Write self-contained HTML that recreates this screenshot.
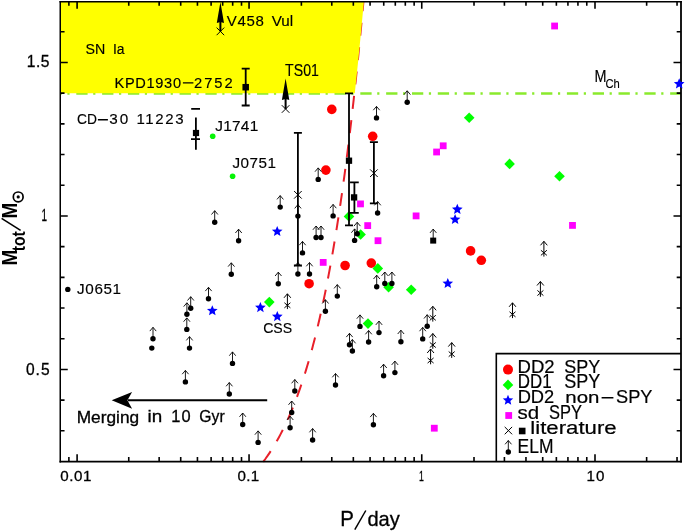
<!DOCTYPE html><html><head><meta charset="utf-8"><style>html,body{margin:0;padding:0;background:#fff;}svg{display:block;will-change:transform;font-family:"Liberation Sans",sans-serif;} .t{stroke:#000;stroke-width:0.2px;} .u{stroke:#000;stroke-width:0.15px;} .v{stroke:#000;stroke-width:0.3px;}</style></head><body><svg width="685" height="531" viewBox="0 0 685 531" font-family="Liberation Sans, sans-serif" fill="#000"><rect width="685" height="531" fill="#fff"/><line x1="60.25" y1="93.6" x2="681.0" y2="93.6" stroke="#8aea2c" stroke-width="2.5" stroke-dasharray="11.3 5.6 2.2 6.72" stroke-dashoffset="9.77"/><path d="M263.2,461.8 L265.49,458.73 L267.67,455.66 L269.75,452.58 L271.74,449.51 L273.66,446.44 L275.49,443.37 L277.26,440.3 L278.97,437.22 L280.61,434.15 L282.2,431.08 L283.74,428.01 L285.22,424.94 L286.67,421.86 L288.07,418.79 L289.42,415.72 L290.74,412.65 L292.03,409.58 L293.28,406.5 L294.49,403.43 L295.68,400.36 L296.84,397.29 L297.97,394.22 L299.07,391.14 L300.15,388.07 L301.2,385 L302.23,381.93 L303.24,378.86 L304.22,375.78 L305.19,372.71 L306.14,369.64 L307.07,366.57 L307.98,363.5 L308.87,360.42 L309.74,357.35 L310.6,354.28 L311.45,351.21 L312.28,348.14 L313.09,345.06 L313.89,341.99 L314.68,338.92 L315.46,335.85 L316.22,332.78 L316.97,329.7 L317.71,326.63 L318.43,323.56 L319.15,320.49 L319.85,317.42 L320.55,314.34 L321.23,311.27 L321.9,308.2 L322.57,305.13 L323.23,302.06 L323.87,298.98 L324.51,295.91 L325.14,292.84 L325.76,289.77 L326.37,286.7 L326.98,283.62 L327.57,280.55 L328.16,277.48 L328.74,274.41 L329.32,271.34 L329.89,268.26 L330.45,265.19 L331,262.12 L331.55,259.05 L332.09,255.98 L332.63,252.9 L333.16,249.83 L333.68,246.76 L334.2,243.69 L334.71,240.62 L335.22,237.54 L335.72,234.47 L336.22,231.4 L336.71,228.33 L337.19,225.26 L337.67,222.18 L338.15,219.11 L338.62,216.04 L339.09,212.97 L339.55,209.9 L340,206.82 L340.46,203.75 L340.91,200.68 L341.35,197.61 L341.79,194.54 L342.23,191.46 L342.66,188.39 L343.09,185.32 L343.51,182.25 L343.93,179.18 L344.35,176.1 L344.76,173.03 L345.17,169.96 L345.57,166.89 L345.98,163.82 L346.37,160.74 L346.77,157.67 L347.16,154.6 L347.55,151.53 L347.94,148.46 L348.32,145.38 L348.7,142.31 L349.08,139.24 L349.45,136.17 L349.82,133.1 L350.19,130.02 L350.55,126.95 L350.91,123.88 L351.27,120.81 L351.63,117.74 L351.98,114.66 L352.33,111.59 L352.68,108.52 L353.03,105.45 L353.37,102.38 L353.71,99.3 L354.05,96.23 L354.39,93.16 L354.72,90.09 L355.05,87.02 L355.38,83.94 L355.71,80.87 L356.03,77.8 L356.35,74.73 L356.67,71.66 L356.99,68.58 L357.31,65.51 L357.62,62.44 L357.93,59.37 L358.24,56.3 L358.55,53.22 L358.85,50.15 L359.16,47.08 L359.46,44.01 L359.76,40.94 L360.05,37.86 L360.35,34.79 L360.64,31.72 L360.94,28.65 L361.23,25.58 L361.51,22.5 L361.8,19.43 L362.09,16.36 L362.37,13.29 L362.65,10.22 L362.93,7.14 L363.21,4.07 L363.48,1" fill="none" stroke="#e8202a" stroke-width="2" stroke-dasharray="13 11.5"/><polygon points="60.25,1.75 363.88,1.75 363.88,1.75 363.33,7.14 362.77,13.29 362.2,19.43 361.63,25.58 361.04,31.72 360.45,37.86 359.86,44.01 359.25,50.15 358.64,56.3 358.02,62.44 357.39,68.58 356.75,74.73 356.11,80.87 355.45,87.02 354.79,93.16 354.79,93.17 60.25,93.17" fill="#ffff00"/><path d="M60.25,1.1V462.55" stroke="#000" stroke-width="1.5"/><path d="M681.0,1.1V462.55" stroke="#000" stroke-width="1.8"/><path d="M59.5,1.75H681.9" stroke="#000" stroke-width="1.3"/><path d="M59.5,461.6H681.9" stroke="#000" stroke-width="1.9"/><path d="M77.1,461.6V454.2M77.1,1.75V8.85M249.05,461.6V454.2M249.05,1.75V8.85M421.75,461.6V454.2M421.75,1.75V8.85M595,461.6V454.2M595,1.75V8.85M68.88,461.6V457M68.88,1.75V5.75M128.75,461.6V457M128.75,1.75V5.75M159.15,461.6V457M159.15,1.75V5.75M180.71,461.6V457M180.71,1.75V5.75M197.44,461.6V457M197.44,1.75V5.75M211.11,461.6V457M211.11,1.75V5.75M222.67,461.6V457M222.67,1.75V5.75M232.68,461.6V457M232.68,1.75V5.75M241.51,461.6V457M241.51,1.75V5.75M301.38,461.6V457M301.38,1.75V5.75M331.78,461.6V457M331.78,1.75V5.75M353.34,461.6V457M353.34,1.75V5.75M370.07,461.6V457M370.07,1.75V5.75M383.74,461.6V457M383.74,1.75V5.75M395.3,461.6V457M395.3,1.75V5.75M405.31,461.6V457M405.31,1.75V5.75M414.14,461.6V457M414.14,1.75V5.75M474.01,461.6V457M474.01,1.75V5.75M504.41,461.6V457M504.41,1.75V5.75M525.97,461.6V457M525.97,1.75V5.75M542.7,461.6V457M542.7,1.75V5.75M556.37,461.6V457M556.37,1.75V5.75M567.93,461.6V457M567.93,1.75V5.75M577.94,461.6V457M577.94,1.75V5.75M586.77,461.6V457M586.77,1.75V5.75M646.64,461.6V457M646.64,1.75V5.75M677.04,461.6V457M677.04,1.75V5.75M60.25,62.55H67.75M681.0,62.55H673.5M60.25,215.95H67.75M681.0,215.95H673.5M60.25,369.5H67.75M681.0,369.5H673.5M60.25,430.81H64.55M681.0,430.81H676.7M60.25,400.12H64.55M681.0,400.12H676.7M60.25,338.73H64.55M681.0,338.73H676.7M60.25,308.03H64.55M681.0,308.03H676.7M60.25,277.34H64.55M681.0,277.34H676.7M60.25,246.64H64.55M681.0,246.64H676.7M60.25,185.25H64.55M681.0,185.25H676.7M60.25,154.56H64.55M681.0,154.56H676.7M60.25,123.86H64.55M681.0,123.86H676.7M60.25,93.17H64.55M681.0,93.17H676.7M60.25,31.78H64.55M681.0,31.78H676.7" stroke="#000" stroke-width="1.6" fill="none"/><circle cx="331.8" cy="109.4" r="4.8" fill="#ff0000"/><circle cx="372.7" cy="136.3" r="4.8" fill="#ff0000"/><circle cx="325.9" cy="170.1" r="4.8" fill="#ff0000"/><circle cx="345.1" cy="265.5" r="4.8" fill="#ff0000"/><circle cx="309.1" cy="283.7" r="4.8" fill="#ff0000"/><circle cx="371.3" cy="263.1" r="4.8" fill="#ff0000"/><circle cx="470.6" cy="250.9" r="4.8" fill="#ff0000"/><circle cx="481.3" cy="260.3" r="4.8" fill="#ff0000"/><path d="M349,211.1L354.3,216.4L349,221.7L343.7,216.4Z" fill="#00ff00"/><path d="M360.6,229.2L365.9,234.5L360.6,239.8L355.3,234.5Z" fill="#00ff00"/><path d="M377.8,263.1L383.1,268.4L377.8,273.7L372.5,268.4Z" fill="#00ff00"/><path d="M388.6,281.9L393.9,287.2L388.6,292.5L383.3,287.2Z" fill="#00ff00"/><path d="M411.2,284.5L416.5,289.8L411.2,295.1L405.9,289.8Z" fill="#00ff00"/><path d="M368,318.3L373.3,323.6L368,328.9L362.7,323.6Z" fill="#00ff00"/><path d="M269.3,296.8L274.6,302.1L269.3,307.4L264,302.1Z" fill="#00ff00"/><path d="M469.2,112.5L474.5,117.8L469.2,123.1L463.9,117.8Z" fill="#00ff00"/><path d="M509.6,158.6L514.9,163.9L509.6,169.2L504.3,163.9Z" fill="#00ff00"/><path d="M559.5,171L564.8,176.3L559.5,181.6L554.2,176.3Z" fill="#00ff00"/><circle cx="212.7" cy="136.2" r="2.8" fill="#06f406"/><circle cx="232.6" cy="176.3" r="2.8" fill="#06f406"/><polygon points="212.3,305.2 213.78,308.76 217.63,309.07 214.7,311.58 215.59,315.33 212.3,313.32 209.01,315.33 209.9,311.58 206.97,309.07 210.82,308.76" fill="#0000ff"/><polygon points="260.4,302 261.88,305.56 265.73,305.87 262.8,308.38 263.69,312.13 260.4,310.12 257.11,312.13 258,308.38 255.07,305.87 258.92,305.56" fill="#0000ff"/><polygon points="277.3,311 278.78,314.56 282.63,314.87 279.7,317.38 280.59,321.13 277.3,319.12 274.01,321.13 274.9,317.38 271.97,314.87 275.82,314.56" fill="#0000ff"/><polygon points="277.2,225.9 278.68,229.46 282.53,229.77 279.6,232.28 280.49,236.03 277.2,234.02 273.91,236.03 274.8,232.28 271.87,229.77 275.72,229.46" fill="#0000ff"/><polygon points="457.3,203.8 458.78,207.36 462.63,207.67 459.7,210.18 460.59,213.93 457.3,211.92 454.01,213.93 454.9,210.18 451.97,207.67 455.82,207.36" fill="#0000ff"/><polygon points="455.1,213.9 456.58,217.46 460.43,217.77 457.5,220.28 458.39,224.03 455.1,222.02 451.81,224.03 452.7,220.28 449.77,217.77 453.62,217.46" fill="#0000ff"/><polygon points="447.8,277.9 449.28,281.46 453.13,281.77 450.2,284.28 451.09,288.03 447.8,286.02 444.51,288.03 445.4,284.28 442.47,281.77 446.32,281.46" fill="#0000ff"/><polygon points="679.2,78.3 680.68,81.86 684.53,82.17 681.6,84.68 682.49,88.43 679.2,86.42 675.91,88.43 676.8,84.68 673.87,82.17 677.72,81.86" fill="#0000ff"/><rect x="551.2" y="22.6" width="6.8" height="6.8" fill="#ff00ff"/><rect x="439.8" y="142.4" width="6.8" height="6.8" fill="#ff00ff"/><rect x="433.2" y="148.6" width="6.8" height="6.8" fill="#ff00ff"/><rect x="357.1" y="200.5" width="6.8" height="6.8" fill="#ff00ff"/><rect x="364.3" y="222.2" width="6.8" height="6.8" fill="#ff00ff"/><rect x="412.7" y="212.5" width="6.8" height="6.8" fill="#ff00ff"/><rect x="374.6" y="237.3" width="6.8" height="6.8" fill="#ff00ff"/><rect x="319.8" y="259" width="6.8" height="6.8" fill="#ff00ff"/><rect x="569.1" y="222" width="6.8" height="6.8" fill="#ff00ff"/><rect x="430.9" y="424.8" width="6.8" height="6.8" fill="#ff00ff"/><path d="M245.7,68.7V105.5M241.7,68.7H249.7M241.7,105.5H249.7" stroke="#000" stroke-width="1.8" fill="none"/><rect x="242.45" y="83.95" width="6.5" height="6.5" fill="#000"/><path d="M191.2,108.9H200M195.9,117.6V149.8M191,139.2H200" stroke="#000" stroke-width="1.8" fill="none"/><rect x="192.9" y="129.9" width="6.2" height="6.2" fill="#000"/><path d="M297.9,132.8V265.5M293.9,132.8H301.9M293.9,265.5H301.9" stroke="#000" stroke-width="1.8" fill="none"/><path d="M294.1,191L301.7,198.6M294.1,198.6L301.7,191" stroke="#000" stroke-width="1.0" fill="none"/><path d="M349,93.3V225.3M345,93.3H353M345,225.3H353" stroke="#000" stroke-width="1.8" fill="none"/><rect x="345.85" y="157.55" width="6.3" height="6.3" fill="#000"/><path d="M354.4,182.3V212.9M350.05,182.3H358.75M350.05,212.9H358.75" stroke="#000" stroke-width="1.8" fill="none"/><rect x="350.95" y="194.25" width="6.3" height="6.3" fill="#000"/><path d="M373.9,142.2V203.4M369.9,142.2H377.9M369.9,203.4H377.9" stroke="#000" stroke-width="1.8" fill="none"/><path d="M370.1,169.4L377.7,177M370.1,177L377.7,169.4" stroke="#000" stroke-width="1.0" fill="none"/><path d="M220.4,2L224,22.9L220.4,21.9L216.8,22.9Z" fill="#000"/><path d="M220.4,20.9V31.4" stroke="#000" stroke-width="2"/><path d="M216.6,27.6L224.2,35.2M216.6,35.2L224.2,27.6" stroke="#000" stroke-width="1.0" fill="none"/><path d="M285.6,78.5L289.3,100.1L285.6,99.1L281.9,100.1Z" fill="#000"/><path d="M285.6,98.1V109" stroke="#000" stroke-width="2"/><path d="M281.8,105.2L289.4,112.8M281.8,112.8L289.4,105.2" stroke="#000" stroke-width="1.0" fill="none"/><path d="M407.2,102.3V90.8M404,94.6L407.2,90.8L410.4,94.6" stroke="#000" stroke-width="0.9" fill="none"/><circle cx="407.2" cy="102.3" r="2.7" fill="#000"/><path d="M376.5,117.9V106.4M373.3,110.2L376.5,106.4L379.7,110.2" stroke="#000" stroke-width="0.9" fill="none"/><circle cx="376.5" cy="117.9" r="2.7" fill="#000"/><path d="M318.2,179.4V167.9M315,171.7L318.2,167.9L321.4,171.7" stroke="#000" stroke-width="0.9" fill="none"/><circle cx="318.2" cy="179.4" r="2.7" fill="#000"/><path d="M280.2,207.1V195.6M277,199.4L280.2,195.6L283.4,199.4" stroke="#000" stroke-width="0.9" fill="none"/><circle cx="280.2" cy="207.1" r="2.7" fill="#000"/><path d="M297.9,216.1V204.6M294.7,208.4L297.9,204.6L301.1,208.4" stroke="#000" stroke-width="0.9" fill="none"/><circle cx="297.9" cy="216.1" r="2.7" fill="#000"/><path d="M333.1,215.9V204.4M329.9,208.2L333.1,204.4L336.3,208.2" stroke="#000" stroke-width="0.9" fill="none"/><circle cx="333.1" cy="215.9" r="2.7" fill="#000"/><path d="M377.6,213V201.5M374.4,205.3L377.6,201.5L380.8,205.3" stroke="#000" stroke-width="0.9" fill="none"/><circle cx="377.6" cy="213" r="2.7" fill="#000"/><path d="M214.7,222.2V210.7M211.5,214.5L214.7,210.7L217.9,214.5" stroke="#000" stroke-width="0.9" fill="none"/><circle cx="214.7" cy="222.2" r="2.7" fill="#000"/><path d="M238.6,240.7V229.2M235.4,233L238.6,229.2L241.8,233" stroke="#000" stroke-width="0.9" fill="none"/><circle cx="238.6" cy="240.7" r="2.7" fill="#000"/><path d="M302.5,252.9V241.4M299.3,245.2L302.5,241.4L305.7,245.2" stroke="#000" stroke-width="0.9" fill="none"/><circle cx="302.5" cy="252.9" r="2.7" fill="#000"/><path d="M316.1,237.5V226M312.9,229.8L316.1,226L319.3,229.8" stroke="#000" stroke-width="0.9" fill="none"/><circle cx="316.1" cy="237.5" r="2.7" fill="#000"/><path d="M321,237.5V226M317.8,229.8L321,226L324.2,229.8" stroke="#000" stroke-width="0.9" fill="none"/><circle cx="321" cy="237.5" r="2.7" fill="#000"/><path d="M357.2,233.8V222.3M354,226.1L357.2,222.3L360.4,226.1" stroke="#000" stroke-width="0.9" fill="none"/><circle cx="357.2" cy="233.8" r="2.7" fill="#000"/><path d="M354.6,240.4V228.9M351.4,232.7L354.6,228.9L357.8,232.7" stroke="#000" stroke-width="0.9" fill="none"/><circle cx="354.6" cy="240.4" r="2.7" fill="#000"/><path d="M297.9,274V262.5M294.7,266.3L297.9,262.5L301.1,266.3" stroke="#000" stroke-width="0.9" fill="none"/><circle cx="297.9" cy="274" r="2.7" fill="#000"/><path d="M309.5,274V262.5M306.3,266.3L309.5,262.5L312.7,266.3" stroke="#000" stroke-width="0.9" fill="none"/><circle cx="309.5" cy="274" r="2.7" fill="#000"/><path d="M231.3,274.3V262.8M228.1,266.6L231.3,262.8L234.5,266.6" stroke="#000" stroke-width="0.9" fill="none"/><circle cx="231.3" cy="274.3" r="2.7" fill="#000"/><path d="M278.3,283.7V272.2M275.1,276L278.3,272.2L281.5,276" stroke="#000" stroke-width="0.9" fill="none"/><circle cx="278.3" cy="283.7" r="2.7" fill="#000"/><path d="M208.5,298.8V287.3M205.3,291.1L208.5,287.3L211.7,291.1" stroke="#000" stroke-width="0.9" fill="none"/><circle cx="208.5" cy="298.8" r="2.7" fill="#000"/><path d="M190.7,308.2V296.7M187.5,300.5L190.7,296.7L193.9,300.5" stroke="#000" stroke-width="0.9" fill="none"/><circle cx="190.7" cy="308.2" r="2.7" fill="#000"/><path d="M186.9,314.3V302.8M183.7,306.6L186.9,302.8L190.1,306.6" stroke="#000" stroke-width="0.9" fill="none"/><circle cx="186.9" cy="314.3" r="2.7" fill="#000"/><path d="M186.8,329.4V317.9M183.6,321.7L186.8,317.9L190,321.7" stroke="#000" stroke-width="0.9" fill="none"/><circle cx="186.8" cy="329.4" r="2.7" fill="#000"/><path d="M153,338.8V327.3M149.8,331.1L153,327.3L156.2,331.1" stroke="#000" stroke-width="0.9" fill="none"/><circle cx="153" cy="338.8" r="2.7" fill="#000"/><path d="M189.5,348.1V336.6M186.3,340.4L189.5,336.6L192.7,340.4" stroke="#000" stroke-width="0.9" fill="none"/><circle cx="189.5" cy="348.1" r="2.7" fill="#000"/><path d="M185.4,381.9V370.4M182.2,374.2L185.4,370.4L188.6,374.2" stroke="#000" stroke-width="0.9" fill="none"/><circle cx="185.4" cy="381.9" r="2.7" fill="#000"/><path d="M232.5,363.4V351.9M229.3,355.7L232.5,351.9L235.7,355.7" stroke="#000" stroke-width="0.9" fill="none"/><circle cx="232.5" cy="363.4" r="2.7" fill="#000"/><path d="M229.3,394V382.5M226.1,386.3L229.3,382.5L232.5,386.3" stroke="#000" stroke-width="0.9" fill="none"/><circle cx="229.3" cy="394" r="2.7" fill="#000"/><path d="M242.7,424.5V413M239.5,416.8L242.7,413L245.9,416.8" stroke="#000" stroke-width="0.9" fill="none"/><circle cx="242.7" cy="424.5" r="2.7" fill="#000"/><path d="M258.1,442.4V430.9M254.9,434.7L258.1,430.9L261.3,434.7" stroke="#000" stroke-width="0.9" fill="none"/><circle cx="258.1" cy="442.4" r="2.7" fill="#000"/><path d="M294.8,391V379.5M291.6,383.3L294.8,379.5L298,383.3" stroke="#000" stroke-width="0.9" fill="none"/><circle cx="294.8" cy="391" r="2.7" fill="#000"/><path d="M291.7,412.5V401M288.5,404.8L291.7,401L294.9,404.8" stroke="#000" stroke-width="0.9" fill="none"/><circle cx="291.7" cy="412.5" r="2.7" fill="#000"/><path d="M290.1,427.7V416.2M286.9,420L290.1,416.2L293.3,420" stroke="#000" stroke-width="0.9" fill="none"/><circle cx="290.1" cy="427.7" r="2.7" fill="#000"/><path d="M312.6,440V428.5M309.4,432.3L312.6,428.5L315.8,432.3" stroke="#000" stroke-width="0.9" fill="none"/><circle cx="312.6" cy="440" r="2.7" fill="#000"/><path d="M337.3,296.1V284.6M334.1,288.4L337.3,284.6L340.5,288.4" stroke="#000" stroke-width="0.9" fill="none"/><circle cx="337.3" cy="296.1" r="2.7" fill="#000"/><path d="M325.4,311.2V299.7M322.2,303.5L325.4,299.7L328.6,303.5" stroke="#000" stroke-width="0.9" fill="none"/><circle cx="325.4" cy="311.2" r="2.7" fill="#000"/><path d="M376.7,286.7V275.2M373.5,279L376.7,275.2L379.9,279" stroke="#000" stroke-width="0.9" fill="none"/><circle cx="376.7" cy="286.7" r="2.7" fill="#000"/><path d="M384.8,283.5V272M381.6,275.8L384.8,272L388,275.8" stroke="#000" stroke-width="0.9" fill="none"/><circle cx="384.8" cy="283.5" r="2.7" fill="#000"/><path d="M391.9,283.5V272M388.7,275.8L391.9,272L395.1,275.8" stroke="#000" stroke-width="0.9" fill="none"/><circle cx="391.9" cy="283.5" r="2.7" fill="#000"/><path d="M360,326.4V314.9M356.8,318.7L360,314.9L363.2,318.7" stroke="#000" stroke-width="0.9" fill="none"/><circle cx="360" cy="326.4" r="2.7" fill="#000"/><path d="M368.6,342V330.5M365.4,334.3L368.6,330.5L371.8,334.3" stroke="#000" stroke-width="0.9" fill="none"/><circle cx="368.6" cy="342" r="2.7" fill="#000"/><path d="M349.5,344.8V333.3M346.3,337.1L349.5,333.3L352.7,337.1" stroke="#000" stroke-width="0.9" fill="none"/><circle cx="349.5" cy="344.8" r="2.7" fill="#000"/><path d="M352.4,351V339.5M349.2,343.3L352.4,339.5L355.6,343.3" stroke="#000" stroke-width="0.9" fill="none"/><circle cx="352.4" cy="351" r="2.7" fill="#000"/><path d="M379,332.6V321.1M375.8,324.9L379,321.1L382.2,324.9" stroke="#000" stroke-width="0.9" fill="none"/><circle cx="379" cy="332.6" r="2.7" fill="#000"/><path d="M400.9,341.7V330.2M397.7,334L400.9,330.2L404.1,334" stroke="#000" stroke-width="0.9" fill="none"/><circle cx="400.9" cy="341.7" r="2.7" fill="#000"/><path d="M383.6,375.7V364.2M380.4,368L383.6,364.2L386.8,368" stroke="#000" stroke-width="0.9" fill="none"/><circle cx="383.6" cy="375.7" r="2.7" fill="#000"/><path d="M394.9,372.6V361.1M391.7,364.9L394.9,361.1L398.1,364.9" stroke="#000" stroke-width="0.9" fill="none"/><circle cx="394.9" cy="372.6" r="2.7" fill="#000"/><path d="M335.5,385V373.5M332.3,377.3L335.5,373.5L338.7,377.3" stroke="#000" stroke-width="0.9" fill="none"/><circle cx="335.5" cy="385" r="2.7" fill="#000"/><path d="M373.4,424.8V413.3M370.2,417.1L373.4,413.3L376.6,417.1" stroke="#000" stroke-width="0.9" fill="none"/><circle cx="373.4" cy="424.8" r="2.7" fill="#000"/><path d="M427.2,326.2V314.7M424,318.5L427.2,314.7L430.4,318.5" stroke="#000" stroke-width="0.9" fill="none"/><circle cx="427.2" cy="326.2" r="2.7" fill="#000"/><path d="M422.7,338.9V327.4M419.5,331.2L422.7,327.4L425.9,331.2" stroke="#000" stroke-width="0.9" fill="none"/><circle cx="422.7" cy="338.9" r="2.7" fill="#000"/><circle cx="151.8" cy="348.1" r="2.7" fill="#000"/><circle cx="67.8" cy="289.4" r="2.7" fill="#000"/><path d="M433.2,240.6V229.1M430,232.9L433.2,229.1L436.4,232.9" stroke="#000" stroke-width="0.9" fill="none"/><rect x="430.2" y="237.6" width="6" height="6" fill="#000"/><path d="M432.8,321.6V306.3M429.4,310.3L432.8,306.3L436.2,310.3M429.8,315.25L435.8,320.35M429.8,320.35L435.8,315.25" stroke="#000" stroke-width="1" fill="none"/><path d="M432.8,348.8V333.5M429.4,337.5L432.8,333.5L436.2,337.5M429.8,342.45L435.8,347.55M429.8,347.55L435.8,342.45" stroke="#000" stroke-width="1" fill="none"/><path d="M430.6,364.3V349M427.2,353L430.6,349L434,353M427.6,357.95L433.6,363.05M427.6,363.05L433.6,357.95" stroke="#000" stroke-width="1" fill="none"/><path d="M451.7,357.9V342.6M448.3,346.6L451.7,342.6L455.1,346.6M448.7,351.55L454.7,356.65M448.7,356.65L454.7,351.55" stroke="#000" stroke-width="1" fill="none"/><path d="M512.5,318.1V302.8M509.1,306.8L512.5,302.8L515.9,306.8M509.5,311.75L515.5,316.85M509.5,316.85L515.5,311.75" stroke="#000" stroke-width="1" fill="none"/><path d="M540.4,296.8V281.5M537,285.5L540.4,281.5L543.8,285.5M537.4,290.45L543.4,295.55M537.4,295.55L543.4,290.45" stroke="#000" stroke-width="1" fill="none"/><path d="M543.9,256.6V241.3M540.5,245.3L543.9,241.3L547.3,245.3M540.9,250.25L546.9,255.35M540.9,255.35L546.9,250.25" stroke="#000" stroke-width="1" fill="none"/><path d="M287.4,309.1V293.8M284,297.8L287.4,293.8L290.8,297.8M284.4,302.75L290.4,307.85M284.4,307.85L290.4,302.75" stroke="#000" stroke-width="1" fill="none"/><path d="M267.2,400.2H128" stroke="#000" stroke-width="2"/><path d="M111.7,400.3L132.1,391.9L127.4,400.3L132.1,408.7Z" fill="#000"/><path d="M496.3,461.6V353.6H681.0" stroke="#000" stroke-width="1.6" fill="none"/><circle cx="508" cy="369.6" r="5" fill="#ff0000"/><path d="M508,379.6L513.3,384.9L508,390.2L502.7,384.9Z" fill="#00ff00"/><polygon points="508,394.7 509.45,398.2 513.23,398.5 510.35,400.96 511.23,404.65 508,402.68 504.77,404.65 505.65,400.96 502.77,398.5 506.55,398.2" fill="#0000ff"/><rect x="505.3" y="412.1" width="6.8" height="6.8" fill="#ff00ff"/><path d="M504.7,426.9L512.1,434.3M504.7,434.3L512.1,426.9" stroke="#000" stroke-width="1.0" fill="none"/><rect x="518.9" y="427.7" width="6.6" height="6.6" fill="#000"/><path d="M508.3,452V440.5M505.1,444.3L508.3,440.5L511.5,444.3" stroke="#000" stroke-width="0.9" fill="none"/><circle cx="508.3" cy="452" r="2.7" fill="#000"/><text class="u" x="85.54" y="53.9" font-size="15.14" textLength="19.73" lengthAdjust="spacingAndGlyphs">SN</text><text class="u" x="112.9" y="53.9" font-size="15.44" textLength="11.61" lengthAdjust="spacingAndGlyphs">Ia</text><text class="u" x="226.8" y="26.2" font-size="15.0" textLength="36.93" lengthAdjust="spacing">V458</text><text class="u" x="271.7" y="26.2" font-size="14.59" textLength="21.44" lengthAdjust="spacingAndGlyphs">Vul</text><text class="u" x="114.53" y="87.7" font-size="14.58" textLength="66.46" lengthAdjust="spacing">KPD1930</text><text class="u" x="194.12" y="87.7" font-size="14.71" textLength="38.54" lengthAdjust="spacing">2752</text><text class="u" x="285.12" y="75.5" font-size="15.57" textLength="33.79" lengthAdjust="spacingAndGlyphs">TS01</text><text class="u" x="77.06" y="124.4" font-size="15.43" textLength="19.94" lengthAdjust="spacingAndGlyphs">CD</text><text class="u" x="109.29" y="124.4" font-size="15.28" textLength="18.91" lengthAdjust="spacing">30</text><text class="u" x="136.4" y="124.3" font-size="15.0" textLength="47.1" lengthAdjust="spacing">11223</text><text class="u" x="215.19" y="130.8" font-size="15.43" textLength="43.1" lengthAdjust="spacing">J1741</text><text class="u" x="232.49" y="167.9" font-size="15.28" textLength="43.59" lengthAdjust="spacing">J0751</text><text class="u" x="77.09" y="293.5" font-size="15.28" textLength="43.99" lengthAdjust="spacing">J0651</text><text class="u" x="263.15" y="333.3" font-size="15.43" textLength="28.95" lengthAdjust="spacingAndGlyphs">CSS</text><text class="u" x="594.45" y="81.6" font-size="16.02" textLength="12.0" lengthAdjust="spacingAndGlyphs">M</text><text class="u" x="605.5" y="87.5" font-size="13.07" textLength="14.33" lengthAdjust="spacingAndGlyphs">Ch</text><text class="v" x="76.72" y="422.5" font-size="16.1" textLength="62.43" lengthAdjust="spacingAndGlyphs">Merging</text><text class="v" x="147.44" y="422.4" font-size="16.24" textLength="14.68" lengthAdjust="spacingAndGlyphs">in</text><text class="v" x="171.3" y="422.4" font-size="16.42" textLength="19.24" lengthAdjust="spacing">10</text><text class="v" x="199.36" y="422.4" font-size="16.57" textLength="25.31" lengthAdjust="spacingAndGlyphs">Gyr</text><text class="t" x="517.62" y="372.7" font-size="19.0" textLength="37.06" lengthAdjust="spacingAndGlyphs">DD2</text><text class="t" x="564.26" y="372.7" font-size="19.0" textLength="36.04" lengthAdjust="spacingAndGlyphs">SPY</text><text class="t" x="517.75" y="388.2" font-size="19.66" textLength="33.85" lengthAdjust="spacingAndGlyphs">DD1</text><text class="t" x="564.26" y="388.2" font-size="19.29" textLength="36.04" lengthAdjust="spacingAndGlyphs">SPY</text><text class="t" x="517.64" y="403.4" font-size="19.14" textLength="36.63" lengthAdjust="spacingAndGlyphs">DD2</text><text class="t" x="565.33" y="403.4" font-size="17.2" textLength="34.17" lengthAdjust="spacingAndGlyphs">non</text><text class="t" x="616.05" y="403.4" font-size="19.14" textLength="36.45" lengthAdjust="spacingAndGlyphs">SPY</text><text class="t" x="517.45" y="419.0" font-size="18.85" textLength="21.63" lengthAdjust="spacingAndGlyphs">sd</text><text class="t" x="549.03" y="419.0" font-size="19.43" textLength="32.92" lengthAdjust="spacingAndGlyphs">SPY</text><text class="t" x="530.32" y="434.3" font-size="18.3" textLength="86.36" lengthAdjust="spacingAndGlyphs">literature</text><text class="t" x="517.61" y="452.8" font-size="20.39" textLength="35.84" lengthAdjust="spacingAndGlyphs">ELM</text><text class="v" x="60.19" y="480.8" font-size="15.14" textLength="31.11" lengthAdjust="spacing">0.01</text><text class="v" x="237.59" y="480.8" font-size="15.14" textLength="21.47" lengthAdjust="spacing">0.1</text><text class="v" x="418.96" y="480.7" font-size="15.44" textLength="4.88" lengthAdjust="spacingAndGlyphs">1</text><text class="v" x="586.59" y="480.6" font-size="15.14" textLength="17.9" lengthAdjust="spacing">10</text><text class="v" x="26.76" y="67.4" font-size="15.58" textLength="22.62" lengthAdjust="spacing">1.5</text><text class="v" x="41.47" y="221.3" font-size="16.02" textLength="5.52" lengthAdjust="spacingAndGlyphs">1</text><text class="v" x="25.98" y="374.6" font-size="15.57" textLength="23.6" lengthAdjust="spacing">0.5</text><text class="v" x="340.17" y="526.3" font-size="21.41" textLength="13.63" lengthAdjust="spacingAndGlyphs">P</text><text class="v" x="367.4" y="526.3" font-size="20.23" textLength="32.42" lengthAdjust="spacingAndGlyphs">day</text><path d="M354.8,529.6L365.8,510.5" stroke="#000" stroke-width="1.5"/><path d="M182.9,82.9H193.4M97.9,119.8H107.9M601.6,397.8H613.4" stroke="#000" stroke-width="1.4"/><text transform="translate(16.9,265.6) rotate(-90)" x="0" y="0" font-size="21.5" font-weight="bold" textLength="15.65" lengthAdjust="spacingAndGlyphs">M</text><text transform="translate(24.7,251.2) rotate(-90)" x="0" y="0" font-size="17.5" font-weight="bold" textLength="19.9" lengthAdjust="spacingAndGlyphs">tot</text><text transform="translate(17.1,218.6) rotate(-90)" x="0" y="0" font-size="21.5" font-weight="bold" textLength="15.65" lengthAdjust="spacingAndGlyphs">M</text><path d="M20.6,230.4L1.6,218.4" stroke="#000" stroke-width="1.6"/><circle cx="18.2" cy="196.9" r="4.9" fill="none" stroke="#000" stroke-width="1.7"/><circle cx="18.2" cy="196.9" r="1.6" fill="#000"/></svg></body></html>
